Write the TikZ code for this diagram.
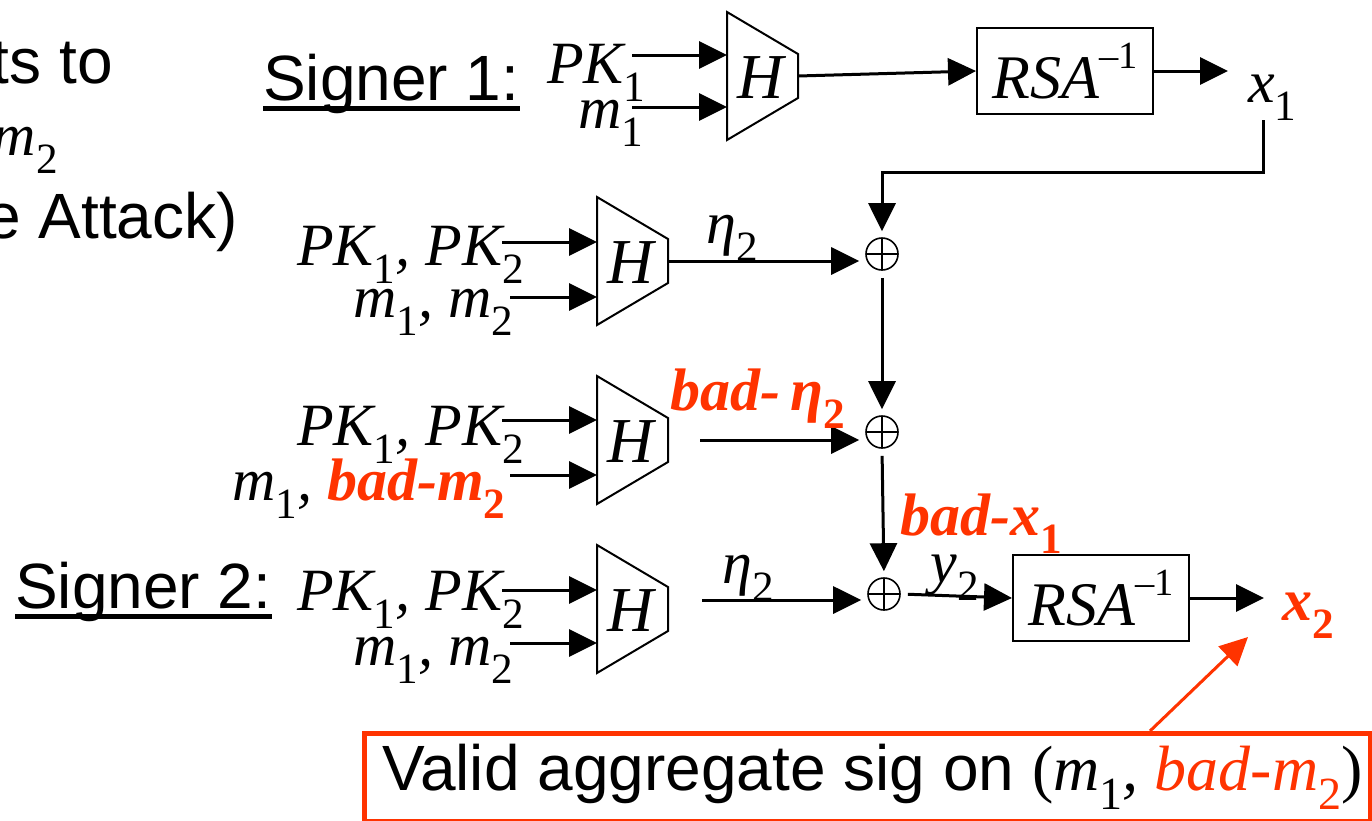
\documentclass[tikz,border=0pt]{standalone}
\usepackage{fontspec}
\setmainfont{Liberation Sans}
\newfontfamily\tms{Liberation Serif}
\usetikzlibrary{arrows.meta}
\definecolor{redo}{RGB}{255,51,0}
\newcommand\sbs[1]{\raisebox{-0.3em}{\upshape\scalebox{0.72}{#1}}}
\newcommand\sps[1]{\raisebox{0.48em}{\upshape\scalebox{0.62}{#1}}}
\newcommand\trapH[3]{%
  \draw[trapline] (#2,#3-64) -- (#2+71,#3-22) -- (#2+71,#3+22) -- (#2,#3+64) -- cycle;
  \node[hlab] (#1) at (#2+34,#3+2) {H};
  \coordinate (#1-a) at (#2,#3-20);
  \coordinate (#1-b) at (#2,#3+34);
  \coordinate (#1-o) at (#2+71,#3);}
\tikzset{
  sans/.style={inner sep=0pt, font=\fontsize{64}{70}\selectfont},
  ser/.style={inner sep=0pt, font=\tms\itshape\fontsize{60}{64}\selectfont},
  hlab/.style={inner sep=0pt, font=\tms\itshape\fontsize{64}{68}\selectfont},
  redser/.style={inner sep=0pt, text=redo, font=\tms\itshape\bfseries\fontsize{60}{64}\selectfont},
  trapline/.style={line width=2pt, line join=miter},
  arr/.style={line width=3pt, -{Triangle[length=28pt,width=27pt]}},
  redarr/.style={line width=3pt, draw=redo, -{Triangle[length=28pt,width=27pt]}},
  rsabox/.style={draw, line width=2pt, minimum width=176pt, minimum height=86pt, inner sep=0pt, font=\tms\itshape\fontsize{62}{66}\selectfont},
  xor/.style={circle, draw, line width=1.6pt, minimum size=32pt, inner sep=0pt,
    path picture={\draw[line width=1.6pt] (path picture bounding box.north) -- (path picture bounding box.south) (path picture bounding box.west) -- (path picture bounding box.east);}},
  uline/.style={line width=5pt},
  gapin/.style={shorten >=6pt},
  gapout/.style={shorten <=7pt},
}
\begin{document}
\begin{tikzpicture}[x=1pt,y=-1pt]
\useasboundingbox (0,0) rectangle (1372,820);
% clipped left-hand text fragments
\node[sans, anchor=base east] (t1) at (113,83) {ts to};
\node[ser, anchor=base east] (t2) at (58,155) {m\sbs{2}};
\node[sans, anchor=base east] (t3) at (238,238) {e Attack)};
% signer labels
\node[sans, anchor=base west] (sg1) at (263,100) {Signer 1:};
\draw[uline] ([yshift=-8pt]sg1.base west) -- ([yshift=-8pt]sg1.base east);
\node[sans, anchor=base west] (sg2) at (15,608) {Signer 2:};
\draw[uline] ([yshift=-8pt]sg2.base west) -- ([yshift=-8pt]sg2.base east);

% ---------- row 1 ----------
\node[ser, anchor=base west] (pk1) at (547,83) {PK\sbs{1}};
\node[ser, anchor=base west] (m1) at (578,128) {m\sbs{1}};
\trapH{h1}{727}{76}
\coordinate (s1a) at (632,55);
\coordinate (s1b) at (632,107);
\draw[arr] (s1a) -- (h1-a |- s1a);
\draw[arr] (s1b) -- (h1-a |- s1b);
\node[rsabox] (rsa1) at (1065,71) {RSA\sps{–1}};
\draw[arr] (h1-o) -- (rsa1.west);
\coordinate (x1t) at (1228,71);
\draw[arr] (rsa1.east) -- (x1t);
\node[ser, anchor=base west] (x1) at (1248,102) {x\sbs{1}};

% ---------- row 2 ----------
\node[ser, anchor=base west] (r2a) at (297,265) {PK\sbs{1}, PK\sbs{2}};
\node[ser, anchor=base west] (r2b) at (353,317) {m\sbs{1}, m\sbs{2}};
\trapH{h2}{597}{261}
\coordinate (s2a) at (502,242);
\coordinate (s2b) at (510,297);
\draw[arr] (s2a) -- (h2-a |- s2a);
\draw[arr] (s2b) -- (h2-a |- s2b);
\node[xor] (o1) at (882,254) {};
\draw[arr, gapin] (h2-o) -- (h2-o -| o1.west);
\node[ser] (eta1) at (732,238) {η\sbs{2}};
\coordinate (turn) at (1263,172);
\draw[arr, gapin] (turn |- x1.south) -- (turn) -| (o1.north);

% ---------- row 3 ----------
\node[ser, anchor=base west] (r3a) at (297,445) {PK\sbs{1}, PK\sbs{2}};
\node[ser, anchor=base west] (r3b) at (232,500) {m\sbs{1}, {\color{redo}\bfseries bad-m\sbs{2}}};
\trapH{h3}{597}{440}
\coordinate (s3a) at (502,420);
\coordinate (s3b) at (510,475);
\draw[arr] (s3a) -- (h3-a |- s3a);
\draw[arr] (s3b) -- (h3-a |- s3b);
\node[xor] (o2) at (882,432) {};
\coordinate (s3o) at (700,440);
\draw[arr, gapin] (s3o) -- (s3o -| o2.west);
\node[redser, anchor=base west] (beta) at (670,410) {bad-\,η\sbs{2}};
\draw[arr, gapin, gapout] (o1.south) -- (o2.north);

% ---------- row 4 ----------
\node[ser, anchor=base west] (r4a) at (297,610) {PK\sbs{1}, PK\sbs{2}};
\node[ser, anchor=base west] (r4b) at (353,665) {m\sbs{1}, m\sbs{2}};
\trapH{h4}{597}{609}
\coordinate (s4a) at (502,590);
\coordinate (s4b) at (510,643);
\draw[arr] (s4a) -- (h4-a |- s4a);
\draw[arr] (s4b) -- (h4-a |- s4b);
\node[xor] (o3) at (884,594) {};
\coordinate (s4o) at (702,600);
\draw[arr, gapin] (s4o) -- (s4o -| o3.west);
\node[ser] (eta2) at (748,578) {η\sbs{2}};
\draw[arr, gapin, gapout] (o2.south) -- (o3.north);
\node[redser, anchor=base west] (bx1) at (900,535) {bad-x\sbs{1}};
\node[rsabox] (rsa2) at (1101,598) {RSA\sps{–1}};
\draw[arr, gapout] (o3.east) -- (rsa2.west);
\node[ser] (y2) at (955,578) {y\sbs{2}};
\coordinate (x2t) at (1264,598);
\draw[arr] (rsa2.east) -- (x2t);
\node[redser, anchor=base west] (x2) at (1282,620) {x\sbs{2}};

% ---------- callout ----------
\node[draw=redo, line width=4.5pt, anchor=north west, minimum width=1006pt, minimum height=88pt, inner sep=0pt] (cb) at (362,731) {};
\node[sans, anchor=base west] (cbt) at (382,790) {Valid aggregate sig on {\tms(\itshape m\sbs{1}, {\color{redo}bad-m\sbs{2}}\upshape)}};
\coordinate (cbp) at (1150,731);
\coordinate (x2p) at (1248,637);
\draw[redarr] (cbp) -- (x2p);
\end{tikzpicture}
\end{document}
